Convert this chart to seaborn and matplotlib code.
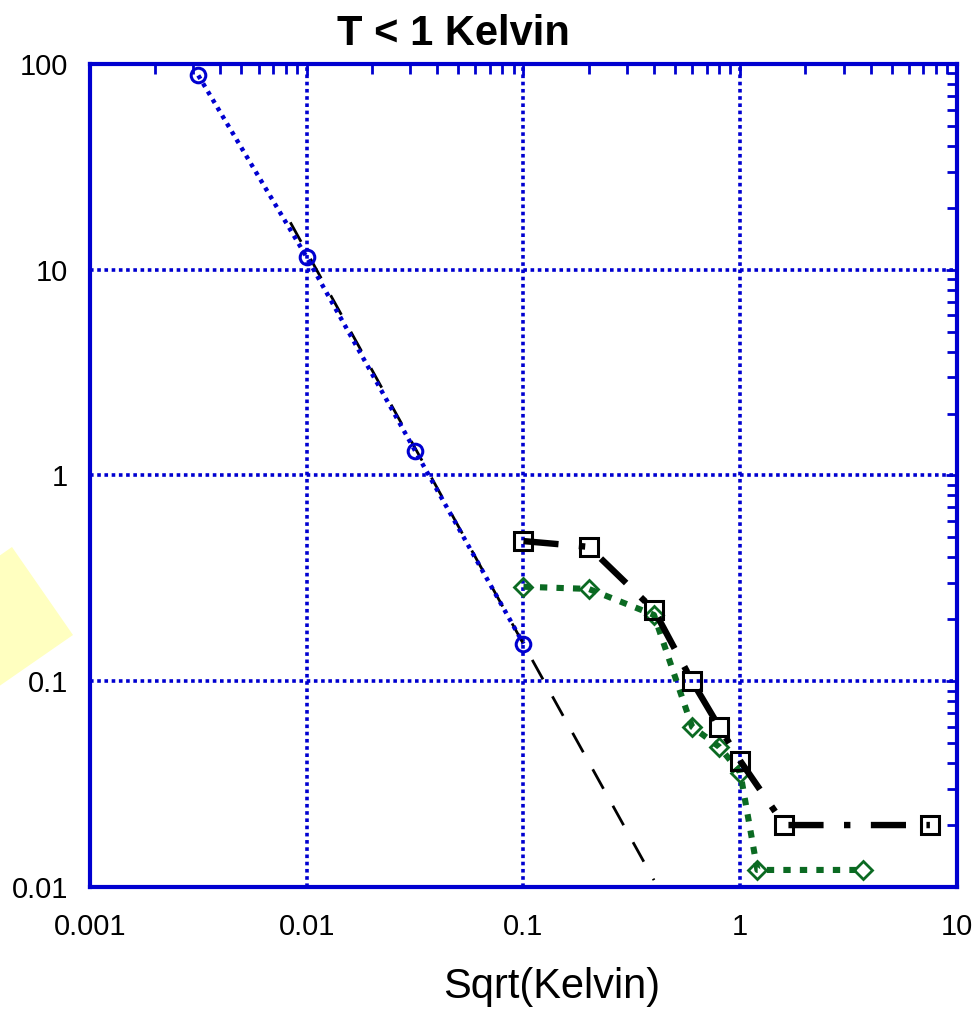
import matplotlib
matplotlib.use("Agg")
import matplotlib.pyplot as plt
from matplotlib.patches import Polygon
import seaborn as sns
import pandas as pd

# Low-temperature series (x in sqrt(Kelvin))
circle_x = [0.00316, 0.01, 0.0316, 0.1]
circle_y = [88.0, 11.5, 1.32, 0.152]

square_x = [0.1, 0.2, 0.4, 0.6, 0.8, 1.0, 1.6, 7.5]
square_y = [0.48, 0.45, 0.222, 0.10, 0.060, 0.041, 0.020, 0.020]

diamond_x = [0.1, 0.2, 0.4, 0.6, 0.8, 1.0, 1.2, 3.7]
diamond_y = [0.288, 0.281, 0.21, 0.060, 0.048, 0.036, 0.0121, 0.0121]

# Power-law fit through the low-x points
fit_x = [0.0084, 0.40]
fit_y = [17.0, 0.0108]

x_ticks = [0.001, 0.01, 0.1, 1, 10]
x_tick_labels = ["0.001", "0.01", "0.1", "1", "10"]
y_ticks = [0.01, 0.1, 1, 10, 100]
y_tick_labels = ["0.01", "0.1", "1", "10", "100"]

BLUE = "#0000d0"
GREEN = "#0b6a22"
YELLOW = "#ffffc0"

sns.set_style("white")
plt.rcParams["font.family"] = ["Liberation Sans", "DejaVu Sans"]
plt.rcParams["text.color"] = "black"
plt.rcParams["axes.labelcolor"] = "black"

fig = plt.figure(figsize=(9.76, 10.24), dpi=100)
ax = fig.add_axes([0.0922, 0.1338, 0.8883, 0.8037])
ax.set_xscale("log")
ax.set_yscale("log")
ax.set_xlim(0.001, 10)
ax.set_ylim(0.01, 100)

# Pale note shape at the left margin
shape_px = [(12, 547), (73, 635), (-15, 696), (-76, 608)]
shape = Polygon([(px / 976, 1 - py / 1024) for px, py in shape_px],
                closed=True, transform=fig.transFigure,
                facecolor=YELLOW, edgecolor="none", zorder=0)
fig.patches.append(shape)

sns.lineplot(data=pd.DataFrame({"x": fit_x, "y": fit_y}), x="x", y="y",
             ax=ax, color="black", linewidth=2.0, zorder=2)
ax.lines[-1].set_dashes((8, 7))

sns.lineplot(data=pd.DataFrame({"x": circle_x, "y": circle_y}), x="x", y="y",
             ax=ax, color=BLUE, linewidth=3.2, marker="o", markersize=10.5,
             markerfacecolor="none", markeredgecolor=BLUE,
             markeredgewidth=2.2, zorder=3)
ax.lines[-1].set_dashes((0.9, 1.2))

sns.lineplot(data=pd.DataFrame({"x": square_x, "y": square_y}), x="x", y="y",
             ax=ax, color="black", linewidth=4.6, marker="s", markersize=13,
             markerfacecolor="none", markeredgecolor="black",
             markeredgewidth=2.2, zorder=4)
ax.lines[-1].set_dashes((5.5, 3.2, 1.0, 3.2))

sns.lineplot(data=pd.DataFrame({"x": diamond_x, "y": diamond_y}), x="x", y="y",
             ax=ax, color=GREEN, linewidth=4.4, marker="D", markersize=9.5,
             markerfacecolor="none", markeredgecolor=GREEN,
             markeredgewidth=2.0, zorder=3)
ax.lines[-1].set_dashes((1.2, 1.5))

ax.grid(which="major", color=BLUE, linestyle=(0, (1, 1)), linewidth=2.6)
ax.grid(which="minor", visible=False)

for side in ax.spines.values():
    side.set_color(BLUE)
    side.set_linewidth(3.0)

ax.set_xticks(x_ticks)
ax.set_xticklabels(x_tick_labels)
ax.set_yticks(y_ticks)
ax.set_yticklabels(y_tick_labels)
ax.tick_params(which="both", direction="in", top=True, right=True,
               color=BLUE, labelcolor="black")
ax.tick_params(which="major", length=8, width=2.0, labelsize=21)
ax.tick_params(axis="x", which="major", pad=19)
ax.tick_params(axis="y", which="major", pad=16)
ax.tick_params(which="minor", length=7, width=2.0)

ax.set_xlabel("Sqrt(Kelvin)", fontsize=30, color="black")
ax.xaxis.set_label_coords(0.532, -0.097)
ax.xaxis.label.set_va("top")
ax.set_ylabel("")
ax.set_title("T < 1 Kelvin", fontsize=30, fontweight="bold", x=0.419,
             pad=14, color="black")

fig.savefig("out.png", dpi=100)
